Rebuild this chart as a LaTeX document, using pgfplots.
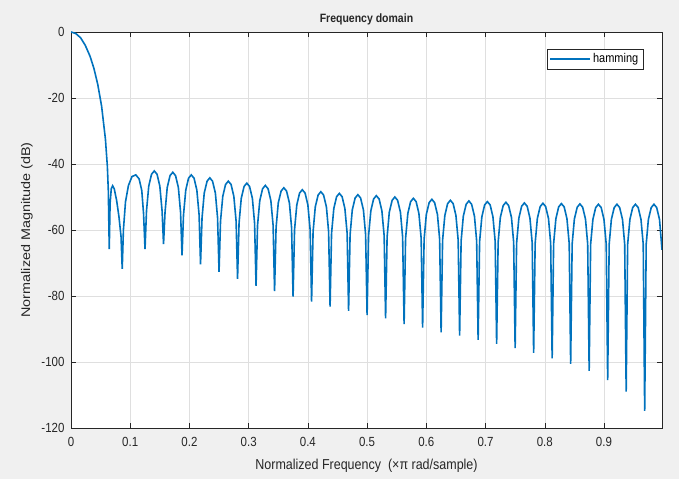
\documentclass[border=0pt]{standalone}
\usepackage{pgfplots}
\pgfplotsset{compat=1.18}
\usepackage{fontspec}
\setmainfont{Liberation Sans}
\definecolor{mblue}{HTML}{0072BD}
\definecolor{maxis}{HTML}{262626}
\definecolor{figbg}{HTML}{F0F0F0}
\definecolor{mgrid}{HTML}{DFDFDF}
\newcommand{\vs}[1]{\scalebox{1}[1.15]{#1}}
\begin{document}
\begin{tikzpicture}
\fill[figbg] (0,0) rectangle (679pt,479pt);
\begin{axis}[
  at={(71pt,51pt)}, anchor=south west,
  scale only axis, width=591pt, height=396pt,
  xmin=0, xmax=0.998, ymin=-120, ymax=0,
  xtick={0,0.1,0.2,0.3,0.4,0.5,0.6,0.7,0.8,0.9},
  ytick={-120,-100,-80,-60,-40,-20,0},
  tick pos=both, tick align=inside,
  major tick length=5pt,
  tick style={maxis, line width=0.5pt},
  axis line style={maxis, line width=0.6pt},
  axis background/.style={fill=white},
  grid=major,
  major grid style={mgrid, line width=0.5pt},
  /pgf/number format/assume math mode=true,
  tick label style={font=\fontsize{11.5}{13}\selectfont, text=maxis},
  xticklabel={\vs{\pgfmathprintnumber{\tick}}},
  yticklabel={\vs{\pgfmathprintnumber{\tick}}},
  xticklabel style={yshift=-6pt},
  yticklabel style={xshift=-3pt},
  every axis title/.style={at={(axis description cs:0.5,1.0354)}, anchor=center, yshift=-1pt, font=\fontsize{10.5}{12}\selectfont\bfseries, text=maxis},
  every axis x label/.style={at={(axis description cs:0.5,-0.096)}, anchor=center, font=\fontsize{12.5}{14}\selectfont, text=maxis},
  every axis y label/.style={at={(axis description cs:-0.0745,0.5)}, rotate=90, anchor=center, font=\fontsize{12.5}{14}\selectfont, text=maxis},
  title={\vs{Frequency domain}},
  xlabel={\vs{Normalized Frequency\ \ (×π rad/sample)}},
  ylabel={\scalebox{1.15}[1]{Normalized Magnitude (dB)}},
  legend style={at={(axis description cs:0.9679,0.9571)}, anchor=north east, draw=maxis, line width=0.5pt, font=\fontsize{11}{13}\selectfont, inner sep=2.5pt},
  legend cell align=left,
  legend image code/.code={\draw[mblue, line width=1.5pt] (0pt,0pt) -- (40pt,0pt);},
]
\addplot[mblue, line width=1.6pt] table {
x y
0 0
0.008 -0.45
0.0162 -1.75
0.024 -4.0
0.0323 -7.4
0.0388 -11.1
0.0452 -15.9
0.0517 -22.5
0.0581 -32.4
0.0614 -40.7
0.0630 -48.0
0.0646 -65.8
0.0660 -52
0.0680 -47.5
0.0703 -46.6
0.0730 -47.5
0.0770 -51
0.0810 -56
0.0845 -62
0.0865 -71.8
0.0885 -60
0.0920 -51.5
0.0970 -46.5
0.1030 -43.8
0.1094 -43.3
0.1150 -44.5
0.1195 -48
0.1225 -55
0.125 -65.8
0.1275 -54.2
0.1313 -46.7
0.136 -43.1
0.1406 -42.1
0.1453 -43.1
0.15 -46.7
0.1538 -54.2
0.15625 -64.3
0.1588 -54.6
0.1625 -47.1
0.1673 -43.5
0.1719 -42.5
0.1765 -43.5
0.1813 -47.1
0.185 -54.6
0.1875 -67.7
0.19 -55.4
0.1938 -47.9
0.1985 -44.3
0.2031 -43.3
0.2078 -44.3
0.2125 -47.9
0.2163 -55.4
0.21875 -70.4
0.2213 -56.3
0.225 -48.8
0.2298 -45.2
0.2344 -44.2
0.239 -45.2
0.2438 -48.8
0.2475 -56.3
0.25 -72.7
0.2525 -57.3
0.2563 -49.8
0.261 -46.2
0.2656 -45.2
0.2703 -46.2
0.275 -49.8
0.2788 -57.3
0.28125 -74.8
0.2838 -57.9
0.2875 -50.4
0.2923 -46.8
0.2969 -45.8
0.3015 -46.8
0.3063 -50.4
0.31 -57.9
0.3125 -76.9
0.315 -58.6
0.3188 -51.1
0.3235 -47.5
0.3281 -46.5
0.3328 -47.5
0.3375 -51.1
0.3413 -58.6
0.34375 -78.5
0.3463 -59.3
0.35 -51.8
0.3548 -48.2
0.3594 -47.2
0.364 -48.2
0.3688 -51.8
0.3725 -59.3
0.375 -80.2
0.3775 -59.9
0.3813 -52.4
0.386 -48.8
0.3906 -47.8
0.3953 -48.8
0.4 -52.4
0.4038 -59.9
0.40625 -81.7
0.4088 -60.5
0.4125 -53.0
0.4173 -49.4
0.4219 -48.4
0.4265 -49.4
0.4313 -53.0
0.435 -60.5
0.4375 -83.2
0.44 -61.0
0.4438 -53.5
0.4485 -49.9
0.4531 -48.9
0.4578 -49.9
0.4625 -53.5
0.4663 -61.0
0.46875 -84.5
0.4713 -61.4
0.475 -53.9
0.4798 -50.3
0.4844 -49.3
0.489 -50.3
0.4938 -53.9
0.4975 -61.4
0.5 -85.8
0.5025 -61.7
0.5063 -54.2
0.511 -50.6
0.5156 -49.6
0.5203 -50.6
0.525 -54.2
0.5288 -61.7
0.53125 -86.8
0.5338 -62.1
0.5375 -54.6
0.5423 -51.0
0.5469 -50.0
0.5515 -51.0
0.5563 -54.6
0.56 -62.1
0.5625 -88.5
0.565 -62.5
0.5688 -55.0
0.5735 -51.4
0.5781 -50.4
0.5828 -51.4
0.5875 -55.0
0.5913 -62.5
0.59375 -89.6
0.5963 -62.8
0.6 -55.3
0.6048 -51.7
0.6094 -50.7
0.614 -51.7
0.6188 -55.3
0.6225 -62.8
0.625 -91.0
0.6275 -63.1
0.6313 -55.6
0.636 -52.0
0.6406 -51.0
0.6453 -52.0
0.65 -55.6
0.6538 -63.1
0.65625 -92.0
0.6588 -63.3
0.6625 -55.8
0.6673 -52.2
0.6719 -51.2
0.6765 -52.2
0.6813 -55.8
0.685 -63.3
0.6875 -93.3
0.69 -63.5
0.6938 -56.0
0.6985 -52.4
0.7031 -51.4
0.7078 -52.4
0.7125 -56.0
0.7163 -63.5
0.71875 -94.5
0.7213 -63.7
0.725 -56.2
0.7298 -52.6
0.7344 -51.6
0.739 -52.6
0.7438 -56.2
0.7475 -63.7
0.75 -95.8
0.7525 -63.9
0.7563 -56.4
0.761 -52.8
0.7656 -51.8
0.7703 -52.8
0.775 -56.4
0.7788 -63.9
0.78125 -97.2
0.7838 -64.0
0.7875 -56.5
0.7923 -52.9
0.7969 -51.9
0.8015 -52.9
0.8063 -56.5
0.81 -64.0
0.8125 -98.9
0.815 -64.1
0.8188 -56.6
0.8235 -53.0
0.8281 -52.0
0.8328 -53.0
0.8375 -56.6
0.8413 -64.1
0.84375 -100.6
0.8463 -64.2
0.85 -56.7
0.8548 -53.1
0.8594 -52.1
0.864 -53.1
0.8688 -56.7
0.8725 -64.2
0.875 -102.7
0.8775 -64.3
0.8813 -56.8
0.886 -53.2
0.8906 -52.2
0.8953 -53.2
0.9 -56.8
0.9038 -64.3
0.90625 -105.5
0.9088 -64.3
0.9125 -56.8
0.9173 -53.2
0.9219 -52.2
0.9265 -53.2
0.9313 -56.8
0.935 -64.3
0.9375 -109.0
0.94 -64.3
0.9438 -56.8
0.9485 -53.2
0.9531 -52.2
0.9578 -53.2
0.9625 -56.8
0.9663 -64.3
0.96875 -114.8
0.9713 -64.3
0.975 -56.8
0.9798 -53.2
0.9844 -52.2
0.989 -53.2
0.9938 -56.8
0.998 -66.0
};
\addlegendentry{\vs{hamming}}
\end{axis}
\end{tikzpicture}
\end{document}
